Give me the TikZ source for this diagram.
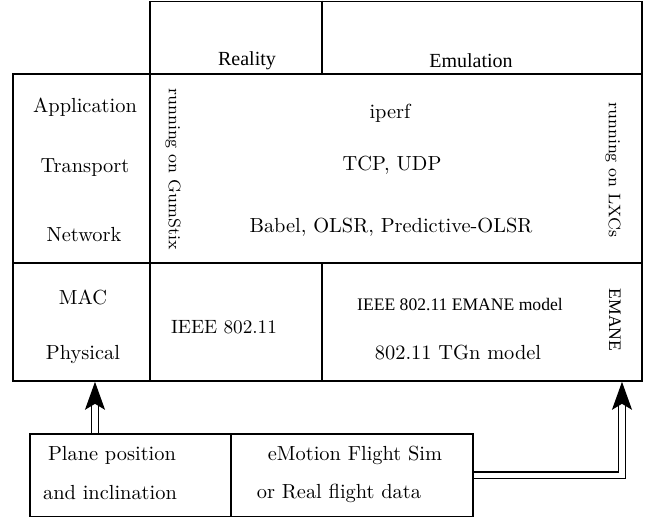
\documentclass[tikz,border=0pt]{standalone}
\usepackage{fontspec}
\newfontfamily\tms{Liberation Serif}
\usetikzlibrary{arrows.meta,fit}
\begin{document}
\begin{tikzpicture}[x=0.5pt,y=-0.5pt,
  boxline/.style={line width=0.8pt},
  frame/.style={draw, line width=0.8pt, inner sep=0pt, fit=#1},
  txt/.style={inner sep=0pt, font=\fontsize{10.2}{12}\selectfont},
  hdr/.style={inner sep=0pt, font=\tms\fontsize{10}{12}\selectfont},
  small/.style={inner sep=0pt, font=\tms\fontsize{8.8}{10}\selectfont},
  side/.style={inner sep=0pt, rotate=-90, font=\fontsize{8.4}{10}\selectfont},
  dblarrow/.style={line width=0.65pt, double, double distance=2.6pt,
    -{Stealth[length=14pt,width=10pt,inset=3pt]}}
]
\useasboundingbox (0,0) rectangle (645,518);
% corner coordinates
\coordinate (h1) at (150,1.5);
\coordinate (h2) at (642,74);
\coordinate (m1) at (13,74);
\coordinate (m2) at (642,381);
\coordinate (b1) at (30,434);
\coordinate (b2) at (473,516.5);
\node[frame=(h1)(h2)] (header) {};
\node[frame=(m1)(m2)] (main) {};
\node[frame=(b1)(b2)] (bottom) {};
% dividers
\coordinate (cx1) at (150,0);
\coordinate (cx2) at (322,0);
\coordinate (cy1) at (0,263);
\coordinate (cx3) at (231,0);
\draw[boxline] (cx2 |- header.north) -- (cx2 |- header.south);
\draw[boxline] (cx1 |- main.north) -- (cx1 |- main.south);
\draw[boxline] (main.west |- cy1) -- (main.east |- cy1);
\draw[boxline] (cx2 |- cy1) -- (cx2 |- main.south);
\draw[boxline] (cx3 |- bottom.north) -- (cx3 |- bottom.south);
% header texts
\node[hdr] (reality) at (247,61) {Reality};
\node[hdr] (emulation) at (471,61) {Emulation};
% left column
\node[txt] (app) at (85,107) {Application};
\node[txt] (trans) at (85,168) {Transport};
\node[txt] (net) at (84,235) {Network};
\node[txt] (mac) at (83,297) {MAC};
\node[txt] (phy) at (83,355) {Physical};
% upper content
\node[side] (gum) at (173,169) {running on GumStix};
\node[txt] (iperf) at (390,113) {iperf};
\node[txt] (tcp) at (392,165) {TCP, UDP};
\node[txt] (babel) at (391,227) {Babel, OLSR, Predictive-OLSR};
\node[side] (lxc) at (613,170) {running on LXCs};
% lower content
\node[txt, font=\fontsize{9.6}{12}\selectfont] (ieee) at (224,327) {IEEE 802.11};
\node[small] (emmodel) at (460,305) {IEEE 802.11 EMANE model};
\node[txt] (tgn) at (458,353) {802.11 TGn model};
\node[small, rotate=-90] (emane) at (615,320) {EMANE};
% bottom box texts
\node[txt] (plane) at (112,455) {Plane position};
\node[txt] (incl) at (110,493) {and inclination};
\node[txt] (emotion) at (355,455) {eMotion Flight Sim};
\node[txt] (real) at (339,493) {or Real flight data};
% arrows
\coordinate (la) at (95,0);
\coordinate (ra) at (622,0);
\draw[dblarrow] (la |- bottom.north) -- (la |- main.south);
\draw[dblarrow] (bottom.east) -| (ra |- main.south);
\end{tikzpicture}
\end{document}
